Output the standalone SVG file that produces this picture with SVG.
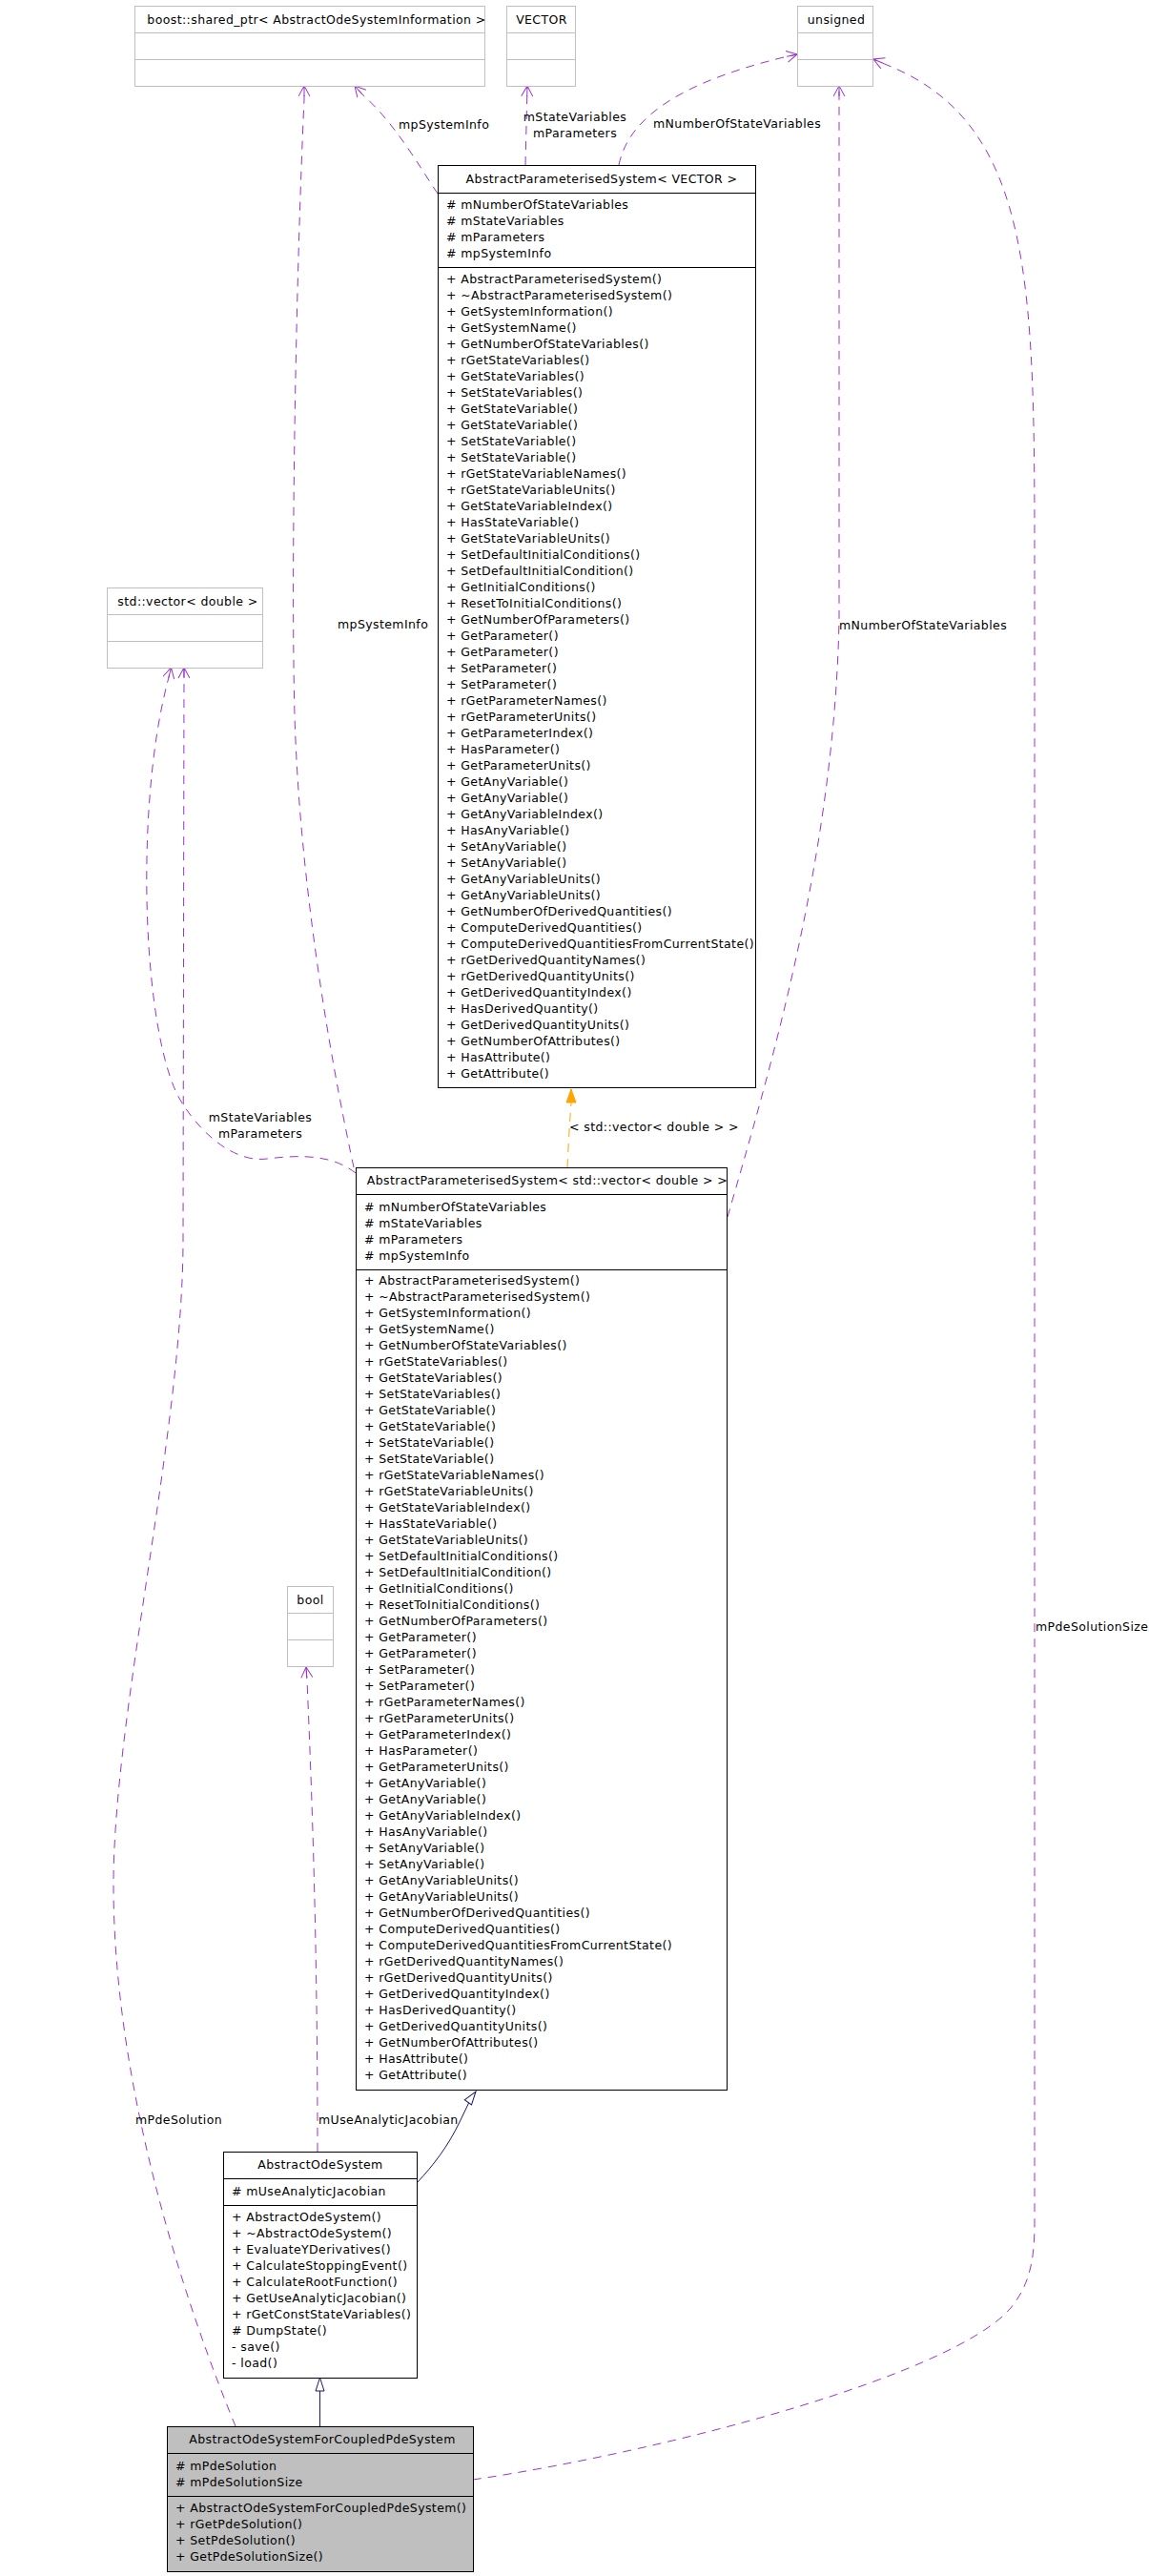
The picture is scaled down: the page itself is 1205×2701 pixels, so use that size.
<svg xmlns="http://www.w3.org/2000/svg" width="1205" height="2701" viewBox="0 0 1205 2701">
<style>
text{font-family:"DejaVu Sans","Liberation Sans",sans-serif;font-size:12.5px;letter-spacing:0.4px;fill:#000}
.c{text-anchor:middle}
.box{fill:#fff;stroke:#000;stroke-width:1}
.ext{fill:#fff;stroke:#bfbfbf;stroke-width:1}
.cur{fill:#bfbfbf;stroke:#000;stroke-width:1}
.sep{stroke:#000;stroke-width:1}
.sepx{stroke:#bfbfbf;stroke-width:1}
.use{fill:none;stroke:#9a32cd;stroke-width:1;stroke-dasharray:9,7}
.inh{fill:none;stroke:#191970;stroke-width:1}
.tpl{fill:none;stroke:#ffa500;stroke-width:1;stroke-dasharray:9,7}
</style>
<defs>
<marker id="open" markerUnits="userSpaceOnUse" markerWidth="13" markerHeight="13" viewBox="0 0 13 13" refX="12" refY="6.5" orient="auto">
<path d="M1,0.5 L12,6.5 L1,12.5 M1,6.5 L12,6.5" fill="none" stroke="#9a32cd" stroke-width="1"/>
</marker>
<marker id="hollow" markerUnits="userSpaceOnUse" markerWidth="16" markerHeight="12" viewBox="0 0 16 12" refX="15" refY="6" orient="auto">
<path d="M1,1.5 L15,6 L1,10.5 Z" fill="#fff" stroke="#191970" stroke-width="1"/>
</marker>
<marker id="filled" markerUnits="userSpaceOnUse" markerWidth="16" markerHeight="12" viewBox="0 0 16 12" refX="15" refY="6" orient="auto">
<path d="M1,1 L15,6 L1,11 Z" fill="#ffa500" stroke="#ffa500" stroke-width="1"/>
</marker>
</defs>
<rect width="1205" height="2701" fill="#fff"/>

<g id="connectors">
<path class="use" d="M459,203 C440,175 415,130 380,99 L372,90" marker-end="url(#open)"/>
<path class="use" d="M551,173 L553,90" marker-end="url(#open)"/>
<path class="use" d="M649,173 C660,120 720,85 822,60 L836,57" marker-end="url(#open)"/>
<path class="use" d="M371,1224 C355,1150 315,950 309,750 C305,600 310,300 319,104 L319,90" marker-end="url(#open)"/>
<path class="use" d="M763,1276 C805,1130 875,900 880,650 L880,90" marker-end="url(#open)"/>
<path class="use" d="M373,1230 C350,1212 320,1210 280,1215 C250,1219 215,1195 190,1155 C150,1090 140,850 176,714 L179.5,700" marker-end="url(#open)"/>
<path class="use" d="M247,2544 C200,2430 120,2200 119,1980 C118,1800 192,1500 192,1300 L193,700" marker-end="url(#open)"/>
<path class="use" d="M333,2256 C333,2050 328,1900 322,1762 L321,1748" marker-end="url(#open)"/>
<path class="use" d="M496,2600 C700,2570 1000,2490 1060,2420 C1080,2395 1085,2370 1085,2330 L1085,600 C1085,300 1085,130 930,68 L916,62" marker-end="url(#open)"/>
<path class="tpl" d="M595,1224 C596,1200 598,1170 599,1156 L599,1142" marker-end="url(#filled)"/>
<path class="inh" d="M437,2289 C455,2270 470,2250 482,2225 L494,2200 L499,2193" marker-end="url(#hollow)"/>
<path class="inh" d="M335.5,2544 L335.5,2493" marker-end="url(#hollow)"/>
<text x="418" y="135">mpSystemInfo</text>
<text class="c" x="603" y="127">mStateVariables</text>
<text class="c" x="603" y="144">mParameters</text>
<text x="685" y="134">mNumberOfStateVariables</text>
<text x="354" y="659">mpSystemInfo</text>
<text x="880" y="660">mNumberOfStateVariables</text>
<text class="c" x="273" y="1176">mStateVariables</text>
<text class="c" x="273" y="1193">mParameters</text>
<text x="597" y="1186">&lt; std::vector&lt; double &gt; &gt;</text>
<text x="1086" y="1710">mPdeSolutionSize</text>
<text x="142" y="2227">mPdeSolution</text>
<text x="334" y="2227">mUseAnalyticJacobian</text>
</g>

<g id="node-boost-shared_ptr">
<rect class="ext" x="141.5" y="6.5" width="367" height="84"/>
<line class="sepx" x1="141.5" y1="34.5" x2="508.5" y2="34.5"/>
<line class="sepx" x1="141.5" y1="62.5" x2="508.5" y2="62.5"/>
<text class="c" x="332" y="25">boost::shared_ptr&lt; AbstractOdeSystemInformation &gt;</text>
</g>

<g id="node-VECTOR">
<rect class="ext" x="531.5" y="6.5" width="72" height="84"/>
<line class="sepx" x1="531.5" y1="34.5" x2="603.5" y2="34.5"/>
<line class="sepx" x1="531.5" y1="62.5" x2="603.5" y2="62.5"/>
<text class="c" x="568" y="25">VECTOR</text>
</g>

<g id="node-unsigned">
<rect class="ext" x="836.5" y="6.5" width="79" height="84"/>
<line class="sepx" x1="836.5" y1="34.5" x2="915.5" y2="34.5"/>
<line class="sepx" x1="836.5" y1="62.5" x2="915.5" y2="62.5"/>
<text class="c" x="877" y="25">unsigned</text>
</g>

<g id="node-std-vector-double">
<rect class="ext" x="112.5" y="616.5" width="163" height="84"/>
<line class="sepx" x1="112.5" y1="644.5" x2="275.5" y2="644.5"/>
<line class="sepx" x1="112.5" y1="672.5" x2="275.5" y2="672.5"/>
<text class="c" x="197" y="635">std::vector&lt; double &gt;</text>
</g>

<g id="node-bool">
<rect class="ext" x="301.5" y="1663.5" width="48" height="84"/>
<line class="sepx" x1="301.5" y1="1691.5" x2="349.5" y2="1691.5"/>
<line class="sepx" x1="301.5" y1="1719.5" x2="349.5" y2="1719.5"/>
<text class="c" x="325.5" y="1682">bool</text>
</g>

<g id="node-AbstractParameterisedSystem-VECTOR">
<rect class="box" x="459.5" y="173.5" width="333" height="967"/>
<line class="sep" x1="459.5" y1="202.5" x2="792.5" y2="202.5"/>
<line class="sep" x1="459.5" y1="280.5" x2="792.5" y2="280.5"/>
<text class="c" x="631" y="192">AbstractParameterisedSystem&lt; VECTOR &gt;</text>
<text x="468" y="219"><tspan x="468">#  mNumberOfStateVariables</tspan><tspan x="468" dy="17">#  mStateVariables</tspan><tspan x="468" dy="17">#  mParameters</tspan><tspan x="468" dy="17">#  mpSystemInfo</tspan></text>
<text x="468" y="297"><tspan x="468">+ AbstractParameterisedSystem()</tspan><tspan x="468" dy="17">+ ~AbstractParameterisedSystem()</tspan><tspan x="468" dy="17">+ GetSystemInformation()</tspan><tspan x="468" dy="17">+ GetSystemName()</tspan><tspan x="468" dy="17">+ GetNumberOfStateVariables()</tspan><tspan x="468" dy="17">+ rGetStateVariables()</tspan><tspan x="468" dy="17">+ GetStateVariables()</tspan><tspan x="468" dy="17">+ SetStateVariables()</tspan><tspan x="468" dy="17">+ GetStateVariable()</tspan><tspan x="468" dy="17">+ GetStateVariable()</tspan><tspan x="468" dy="17">+ SetStateVariable()</tspan><tspan x="468" dy="17">+ SetStateVariable()</tspan><tspan x="468" dy="17">+ rGetStateVariableNames()</tspan><tspan x="468" dy="17">+ rGetStateVariableUnits()</tspan><tspan x="468" dy="17">+ GetStateVariableIndex()</tspan><tspan x="468" dy="17">+ HasStateVariable()</tspan><tspan x="468" dy="17">+ GetStateVariableUnits()</tspan><tspan x="468" dy="17">+ SetDefaultInitialConditions()</tspan><tspan x="468" dy="17">+ SetDefaultInitialCondition()</tspan><tspan x="468" dy="17">+ GetInitialConditions()</tspan><tspan x="468" dy="17">+ ResetToInitialConditions()</tspan><tspan x="468" dy="17">+ GetNumberOfParameters()</tspan><tspan x="468" dy="17">+ GetParameter()</tspan><tspan x="468" dy="17">+ GetParameter()</tspan><tspan x="468" dy="17">+ SetParameter()</tspan><tspan x="468" dy="17">+ SetParameter()</tspan><tspan x="468" dy="17">+ rGetParameterNames()</tspan><tspan x="468" dy="17">+ rGetParameterUnits()</tspan><tspan x="468" dy="17">+ GetParameterIndex()</tspan><tspan x="468" dy="17">+ HasParameter()</tspan><tspan x="468" dy="17">+ GetParameterUnits()</tspan><tspan x="468" dy="17">+ GetAnyVariable()</tspan><tspan x="468" dy="17">+ GetAnyVariable()</tspan><tspan x="468" dy="17">+ GetAnyVariableIndex()</tspan><tspan x="468" dy="17">+ HasAnyVariable()</tspan><tspan x="468" dy="17">+ SetAnyVariable()</tspan><tspan x="468" dy="17">+ SetAnyVariable()</tspan><tspan x="468" dy="17">+ GetAnyVariableUnits()</tspan><tspan x="468" dy="17">+ GetAnyVariableUnits()</tspan><tspan x="468" dy="17">+ GetNumberOfDerivedQuantities()</tspan><tspan x="468" dy="17">+ ComputeDerivedQuantities()</tspan><tspan x="468" dy="17">+ ComputeDerivedQuantitiesFromCurrentState()</tspan><tspan x="468" dy="17">+ rGetDerivedQuantityNames()</tspan><tspan x="468" dy="17">+ rGetDerivedQuantityUnits()</tspan><tspan x="468" dy="17">+ GetDerivedQuantityIndex()</tspan><tspan x="468" dy="17">+ HasDerivedQuantity()</tspan><tspan x="468" dy="17">+ GetDerivedQuantityUnits()</tspan><tspan x="468" dy="17">+ GetNumberOfAttributes()</tspan><tspan x="468" dy="17">+ HasAttribute()</tspan><tspan x="468" dy="17">+ GetAttribute()</tspan></text>
</g>

<g id="node-AbstractParameterisedSystem-std-vector">
<rect class="box" x="373.5" y="1224.5" width="389" height="967"/>
<line class="sep" x1="373.5" y1="1252.5" x2="762.5" y2="1252.5"/>
<line class="sep" x1="373.5" y1="1331.5" x2="762.5" y2="1331.5"/>
<text class="c" x="574" y="1242">AbstractParameterisedSystem&lt; std::vector&lt; double &gt; &gt;</text>
<text x="382" y="1270"><tspan x="382">#  mNumberOfStateVariables</tspan><tspan x="382" dy="17">#  mStateVariables</tspan><tspan x="382" dy="17">#  mParameters</tspan><tspan x="382" dy="17">#  mpSystemInfo</tspan></text>
<text x="382" y="1347"><tspan x="382">+ AbstractParameterisedSystem()</tspan><tspan x="382" dy="17">+ ~AbstractParameterisedSystem()</tspan><tspan x="382" dy="17">+ GetSystemInformation()</tspan><tspan x="382" dy="17">+ GetSystemName()</tspan><tspan x="382" dy="17">+ GetNumberOfStateVariables()</tspan><tspan x="382" dy="17">+ rGetStateVariables()</tspan><tspan x="382" dy="17">+ GetStateVariables()</tspan><tspan x="382" dy="17">+ SetStateVariables()</tspan><tspan x="382" dy="17">+ GetStateVariable()</tspan><tspan x="382" dy="17">+ GetStateVariable()</tspan><tspan x="382" dy="17">+ SetStateVariable()</tspan><tspan x="382" dy="17">+ SetStateVariable()</tspan><tspan x="382" dy="17">+ rGetStateVariableNames()</tspan><tspan x="382" dy="17">+ rGetStateVariableUnits()</tspan><tspan x="382" dy="17">+ GetStateVariableIndex()</tspan><tspan x="382" dy="17">+ HasStateVariable()</tspan><tspan x="382" dy="17">+ GetStateVariableUnits()</tspan><tspan x="382" dy="17">+ SetDefaultInitialConditions()</tspan><tspan x="382" dy="17">+ SetDefaultInitialCondition()</tspan><tspan x="382" dy="17">+ GetInitialConditions()</tspan><tspan x="382" dy="17">+ ResetToInitialConditions()</tspan><tspan x="382" dy="17">+ GetNumberOfParameters()</tspan><tspan x="382" dy="17">+ GetParameter()</tspan><tspan x="382" dy="17">+ GetParameter()</tspan><tspan x="382" dy="17">+ SetParameter()</tspan><tspan x="382" dy="17">+ SetParameter()</tspan><tspan x="382" dy="17">+ rGetParameterNames()</tspan><tspan x="382" dy="17">+ rGetParameterUnits()</tspan><tspan x="382" dy="17">+ GetParameterIndex()</tspan><tspan x="382" dy="17">+ HasParameter()</tspan><tspan x="382" dy="17">+ GetParameterUnits()</tspan><tspan x="382" dy="17">+ GetAnyVariable()</tspan><tspan x="382" dy="17">+ GetAnyVariable()</tspan><tspan x="382" dy="17">+ GetAnyVariableIndex()</tspan><tspan x="382" dy="17">+ HasAnyVariable()</tspan><tspan x="382" dy="17">+ SetAnyVariable()</tspan><tspan x="382" dy="17">+ SetAnyVariable()</tspan><tspan x="382" dy="17">+ GetAnyVariableUnits()</tspan><tspan x="382" dy="17">+ GetAnyVariableUnits()</tspan><tspan x="382" dy="17">+ GetNumberOfDerivedQuantities()</tspan><tspan x="382" dy="17">+ ComputeDerivedQuantities()</tspan><tspan x="382" dy="17">+ ComputeDerivedQuantitiesFromCurrentState()</tspan><tspan x="382" dy="17">+ rGetDerivedQuantityNames()</tspan><tspan x="382" dy="17">+ rGetDerivedQuantityUnits()</tspan><tspan x="382" dy="17">+ GetDerivedQuantityIndex()</tspan><tspan x="382" dy="17">+ HasDerivedQuantity()</tspan><tspan x="382" dy="17">+ GetDerivedQuantityUnits()</tspan><tspan x="382" dy="17">+ GetNumberOfAttributes()</tspan><tspan x="382" dy="17">+ HasAttribute()</tspan><tspan x="382" dy="17">+ GetAttribute()</tspan></text>
</g>

<g id="node-AbstractOdeSystem">
<rect class="box" x="234.5" y="2256.5" width="203" height="237"/>
<line class="sep" x1="234.5" y1="2284.5" x2="437.5" y2="2284.5"/>
<line class="sep" x1="234.5" y1="2312.5" x2="437.5" y2="2312.5"/>
<text class="c" x="336" y="2274">AbstractOdeSystem</text>
<text x="243" y="2302">#  mUseAnalyticJacobian</text>
<text x="243" y="2329"><tspan x="243">+ AbstractOdeSystem()</tspan><tspan x="243" dy="17">+ ~AbstractOdeSystem()</tspan><tspan x="243" dy="17">+ EvaluateYDerivatives()</tspan><tspan x="243" dy="17">+ CalculateStoppingEvent()</tspan><tspan x="243" dy="17">+ CalculateRootFunction()</tspan><tspan x="243" dy="17">+ GetUseAnalyticJacobian()</tspan><tspan x="243" dy="17">+ rGetConstStateVariables()</tspan><tspan x="243" dy="17">#  DumpState()</tspan><tspan x="243" dy="17">- save()</tspan><tspan x="243" dy="17">- load()</tspan></text>
</g>

<g id="node-AbstractOdeSystemForCoupledPdeSystem">
<rect class="cur" x="175.5" y="2544.5" width="321" height="152"/>
<line class="sep" x1="175.5" y1="2572.5" x2="496.5" y2="2572.5"/>
<line class="sep" x1="175.5" y1="2617.5" x2="496.5" y2="2617.5"/>
<text class="c" x="338" y="2562">AbstractOdeSystemForCoupledPdeSystem</text>
<text x="184" y="2590"><tspan x="184">#  mPdeSolution</tspan><tspan x="184" dy="17">#  mPdeSolutionSize</tspan></text>
<text x="184" y="2634"><tspan x="184">+ AbstractOdeSystemForCoupledPdeSystem()</tspan><tspan x="184" dy="17">+ rGetPdeSolution()</tspan><tspan x="184" dy="17">+ SetPdeSolution()</tspan><tspan x="184" dy="17">+ GetPdeSolutionSize()</tspan></text>
</g>
</svg>
